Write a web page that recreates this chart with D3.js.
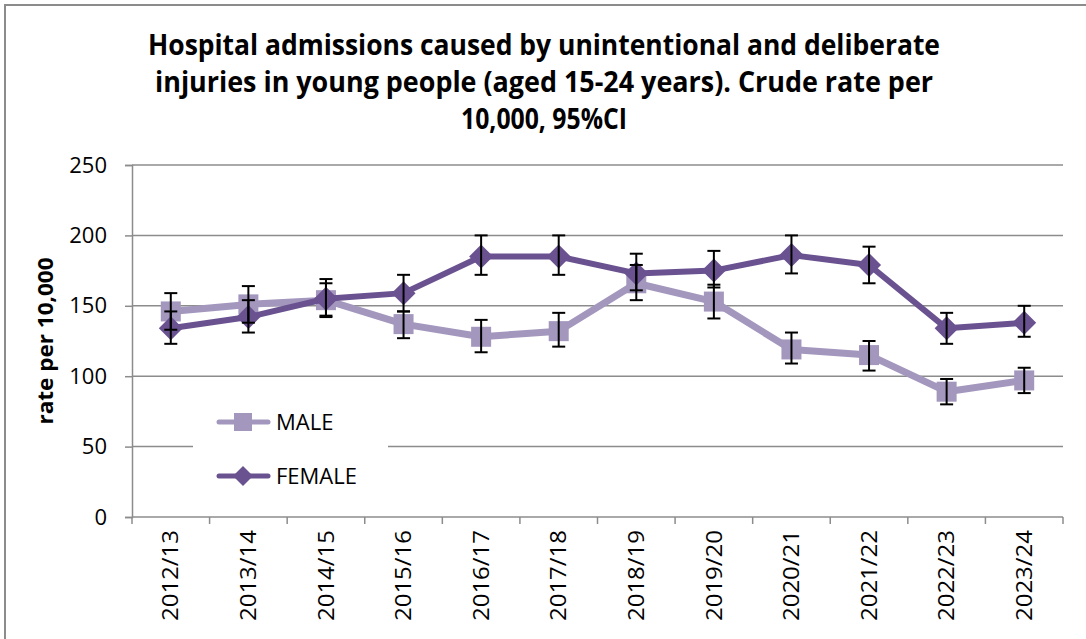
<!DOCTYPE html>
<html>
<head>
<meta charset="utf-8">
<script src="https://cdn.jsdelivr.net/npm/d3@7"></script>
<style>
  html, body { margin: 0; padding: 0; background: #fff; }
  svg { display: block; font-family: Carlito, Calibri, 'Open Sans', sans-serif; }
</style>
</head>
<body>
<div id="chart"></div>
<script>
// ── data ─────────────────────────────────────────────
const categories = ['2012/13', '2013/14', '2014/15', '2015/16', '2016/17', '2017/18',
     '2018/19', '2019/20', '2020/21', '2021/22', '2022/23', '2023/24'];

const maleRate = [146, 151, 154, 137, 128, 132, 166, 153, 119, 115, 89, 97];
const maleLow  = [133, 138, 143, 127, 117, 121, 154, 141, 109, 104, 80, 88];
const maleHigh = [159, 164, 166, 146, 140, 145, 179, 165, 131, 125, 98, 106];

const femaleRate = [134, 142, 155, 159, 185, 185, 173, 175, 186, 179, 134, 138];
const femaleLow  = [123, 131, 142, 146, 172, 172, 161, 163, 173, 166, 123, 128];
const femaleHigh = [146, 154, 169, 172, 200, 200, 187, 189, 200, 192, 145, 150];

const yTicks = [0, 50, 100, 150, 200, 250];
const titleLines = [
     'Hospital admissions caused by unintentional and deliberate',
     'injuries in young people (aged 15-24 years). Crude rate per',
     '10,000, 95%CI'
];

const series = [
     { name: 'MALE', color: '#A497BE', width: 7, shape: 'square', rate: maleRate, low: maleLow, high: maleHigh },
     { name: 'FEMALE', color: '#6A5290', width: 6, shape: 'diamond', rate: femaleRate, low: femaleLow, high: femaleHigh }
];

// ── layout ───────────────────────────────────────────
const W = 1086, H = 639;
const M = { left: 132, right: 23, top: 165, bottom: 122 };
const iW = W - M.left - M.right, iH = H - M.top - M.bottom;

const svg = d3.select('#chart').append('svg').attr('width', W).attr('height', H);

// outer chart border (left + top visible)
svg.append('rect').attr('x', 5).attr('y', 5).attr('width', W + 10).attr('height', H + 10)
     .attr('fill', '#fff').attr('stroke', '#8c8c8c').attr('stroke-width', 2);

const xScl = d3.scaleBand().domain(categories).range([0, iW]).padding(0);
const yScl = d3.scaleLinear().domain([0, 250]).range([iH, 0]);

// title
svg.append('g').selectAll('text')
     .data(titleLines)
     .join('text')
     .attr('x', 544)
     .attr('y', (_, i) => 55 + i * 37)
     .attr('text-anchor', 'middle')
     .attr('font-weight', 'bold').attr('font-size', '28px').attr('fill', '#000')
     .attr('font-family', "'Open Sans', sans-serif")
     .attr('textLength', (d, i) => [792, 778, 166][i])
     .attr('lengthAdjust', 'spacingAndGlyphs')
     .text(d => d);

const g = svg.append('g').attr('transform', `translate(${M.left},${M.top})`);

// gridlines
g.append('g').selectAll('line')
     .data(yTicks.filter(t => t > 0))
     .join('line')
     .attr('x1', 0).attr('x2', iW)
     .attr('y1', d => yScl(d)).attr('y2', d => yScl(d))
     .attr('stroke', '#8c8c8c').attr('stroke-width', 1.5);

// legend box (covers gridline)
g.append('rect')
     .attr('x', 193 - M.left).attr('y', 398 - M.top)
     .attr('width', 195).attr('height', 100)
     .attr('fill', '#fff');

// y axis
const yAxis = g.append('g')
     .call(d3.axisLeft(yScl).tickValues(yTicks).tickSize(7).tickPadding(18));
yAxis.select('.domain').attr('stroke', '#8c8c8c').attr('stroke-width', 1.5);
yAxis.selectAll('.tick line').attr('stroke', '#8c8c8c').attr('stroke-width', 1.5);
yAxis.selectAll('text').attr('font-size', '22px').attr('fill', '#000')
     .attr('font-family', "'Open Sans', sans-serif");

// x axis (ticks at band edges)
g.append('line').attr('x1', 0).attr('x2', iW).attr('y1', iH).attr('y2', iH)
     .attr('stroke', '#8c8c8c').attr('stroke-width', 1.5);
const edges = categories.map(c => xScl(c)).concat([iW]);
g.append('g').selectAll('line')
     .data(edges)
     .join('line')
     .attr('x1', d => d).attr('x2', d => d)
     .attr('y1', iH).attr('y2', iH + 7)
     .attr('stroke', '#8c8c8c').attr('stroke-width', 1.5);

g.append('g').selectAll('text')
     .data(categories)
     .join('text')
     .attr('transform', d => `translate(${xScl(d) + xScl.bandwidth() / 2},${iH + 13}) rotate(-90)`)
     .attr('dy', '0.35em')
     .attr('text-anchor', 'end')
     .attr('font-size', '22px').attr('fill', '#000')
     .attr('font-family', "'Open Sans', sans-serif")
     .attr('textLength', 91).attr('lengthAdjust', 'spacingAndGlyphs')
     .text(d => d);

// y axis title
svg.append('text')
     .attr('transform', 'translate(53,341) rotate(-90)')
     .attr('text-anchor', 'middle')
     .attr('font-weight', 'bold').attr('font-size', '21px').attr('fill', '#000')
     .attr('font-family', "'Open Sans', sans-serif")
     .attr('textLength', 167).attr('lengthAdjust', 'spacingAndGlyphs')
     .text('rate per 10,000');

// lines + markers
const cx = i => xScl(categories[i]) + xScl.bandwidth() / 2;
const line = d3.line().x((_, i) => cx(i)).y(d => yScl(d));

function drawMarker(sel, shape, size, color) {
     if (shape === 'square') {
          sel.append('rect').attr('x', -size / 2).attr('y', -size / 2)
               .attr('width', size).attr('height', size).attr('fill', color);
     } else {
          const s = size / 2;
          sel.append('path').attr('d', `M0,${-s}L${s},0L0,${s}L${-s},0Z`).attr('fill', color);
     }
}

series.forEach(s => {
     g.append('path').datum(s.rate)
          .attr('d', line)
          .attr('fill', 'none').attr('stroke', s.color)
          .attr('stroke-width', s.width).attr('stroke-linejoin', 'round');
     g.append('g').selectAll('g')
          .data(s.rate)
          .join('g')
          .attr('transform', (d, i) => `translate(${cx(i)},${yScl(d)})`)
          .each(function () { drawMarker(d3.select(this), s.shape, s.shape === 'square' ? 20 : 24, s.color); });
});

// error bars on top
series.forEach(s => {
     const eb = g.append('g').attr('stroke', '#000').attr('stroke-width', 2);
     s.rate.forEach((_, i) => {
          const x = cx(i), y1 = yScl(s.low[i]), y2 = yScl(s.high[i]);
          eb.append('line').attr('x1', x).attr('x2', x).attr('y1', y1).attr('y2', y2);
          eb.append('line').attr('x1', x - 6.5).attr('x2', x + 6.5).attr('y1', y1).attr('y2', y1);
          eb.append('line').attr('x1', x - 6.5).attr('x2', x + 6.5).attr('y1', y2).attr('y2', y2);
     });
});

// legend
const legY = [422, 476];
const leg = svg.append('g');
series.forEach((s, i) => {
     const lg = leg.append('g').attr('transform', `translate(0,${legY[i]})`);
     lg.append('line').attr('x1', 219).attr('x2', 268).attr('y1', 0).attr('y2', 0)
          .attr('stroke', s.color).attr('stroke-width', 5).attr('stroke-linecap', 'round');
     const mk = lg.append('g').attr('transform', 'translate(243,0)');
     drawMarker(mk, s.shape, s.shape === 'square' ? 18 : 20, s.color);
     lg.append('text').attr('x', 276).attr('y', 8)
          .attr('font-size', '22px').attr('fill', '#000')
          .attr('font-family', "'Open Sans', sans-serif")
          .text(s.name);
});
</script>
</body>
</html>
